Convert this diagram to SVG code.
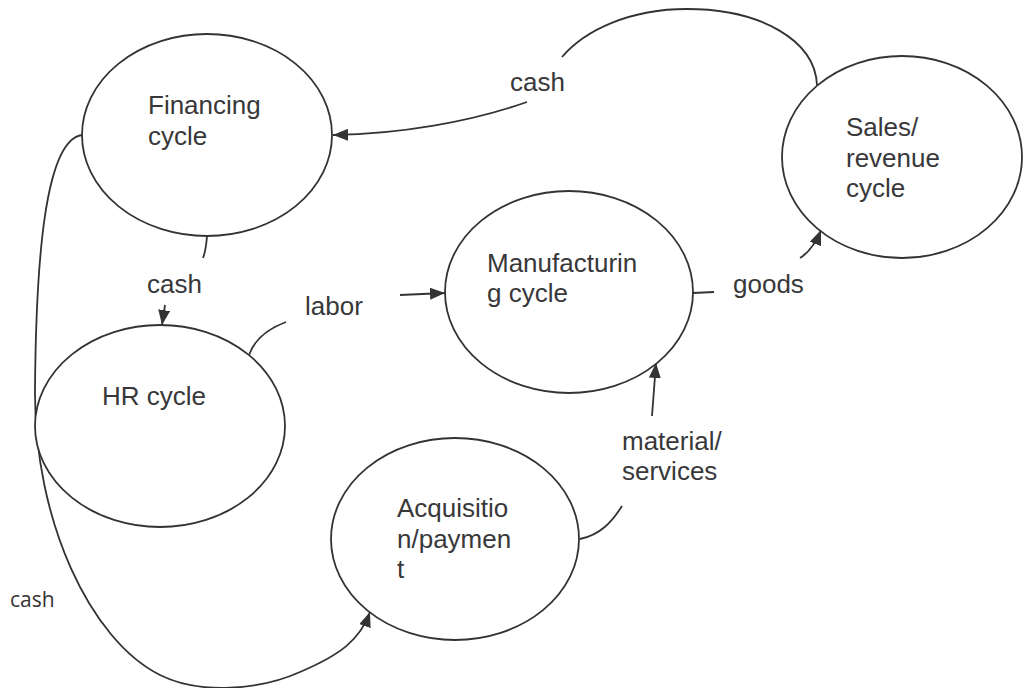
<svg xmlns="http://www.w3.org/2000/svg" width="1029" height="688" viewBox="0 0 1029 688">
<style>
.node{fill:#fff;stroke:#333;stroke-width:1.8}
.lbl{font-family:"Liberation Sans",Arial,sans-serif;font-size:26px;fill:#38383a}
.small{font-family:"Open Sans","Liberation Sans",sans-serif;font-size:21px;fill:#333}
.conn{fill:none;stroke:#333;stroke-width:1.8}
</style>
<defs>
<marker id="arr" markerUnits="userSpaceOnUse" markerWidth="16" markerHeight="12" refX="15" refY="6" orient="auto">
<path d="M0,0 L15,6 L0,12 z" fill="#333"/>
</marker>
</defs>
<rect width="1029" height="688" fill="#fff"/>
<g id="connectors">
<path class="conn" d="M817,85 C815,40 760,9 687,9 C630,9 585,30 562,57"/>
<path class="conn" d="M527,102 C470,122 400,134 333,135" marker-end="url(#arr)"/>
<path class="conn" d="M207,236 Q206,250 203,258"/>
<path class="conn" d="M165,305 L162,325" marker-end="url(#arr)"/>
<path class="conn" d="M249,355 C255,338 270,328 286,322"/>
<path class="conn" d="M400,295 L445,293" marker-end="url(#arr)"/>
<path class="conn" d="M693,293 L714,292"/>
<path class="conn" d="M800,258 Q813,250 821,230" marker-end="url(#arr)"/>
<path class="conn" d="M580,539 C600,535 612,522 622,506"/>
<path class="conn" d="M652,416 L656,363" marker-end="url(#arr)"/>
<path class="conn" d="M82,135 C45,140 36,260 35,390 C34,520 90,640 160,675 C200,695 260,690 300,672 C340,655 360,640 370,612" marker-end="url(#arr)"/>
</g>
<g id="node-financing">
<ellipse class="node" cx="207" cy="135" rx="125" ry="101"/>
<text class="lbl" x="148" y="114">Financing</text>
<text class="lbl" x="148" y="145">cycle</text>
</g>
<g id="node-sales">
<ellipse class="node" cx="902" cy="157" rx="120" ry="101"/>
<text class="lbl" x="846" y="136">Sales/</text>
<text class="lbl" x="846" y="167">revenue</text>
<text class="lbl" x="846" y="197">cycle</text>
</g>
<g id="node-manufacturing">
<ellipse class="node" cx="569" cy="292" rx="124" ry="101"/>
<text class="lbl" x="487" y="272">Manufacturin</text>
<text class="lbl" x="487" y="302">g cycle</text>
</g>
<g id="node-hr">
<ellipse class="node" cx="160" cy="426" rx="125" ry="101"/>
<text class="lbl" x="102" y="405">HR cycle</text>
</g>
<g id="node-acquisition">
<ellipse class="node" cx="455" cy="539" rx="124" ry="101"/>
<text class="lbl" x="397" y="517">Acquisitio</text>
<text class="lbl" x="397" y="548">n/paymen</text>
<text class="lbl" x="397" y="578">t</text>
</g>
<g id="labels">
<text class="lbl" x="510" y="91">cash</text>
<text class="lbl" x="147" y="293">cash</text>
<text class="lbl" x="305" y="315">labor</text>
<text class="lbl" x="733" y="293">goods</text>
<text class="lbl" x="622" y="450">material/</text>
<text class="lbl" x="622" y="480">services</text>
<text class="small" x="10" y="607">cash</text>
</g>
</svg>
